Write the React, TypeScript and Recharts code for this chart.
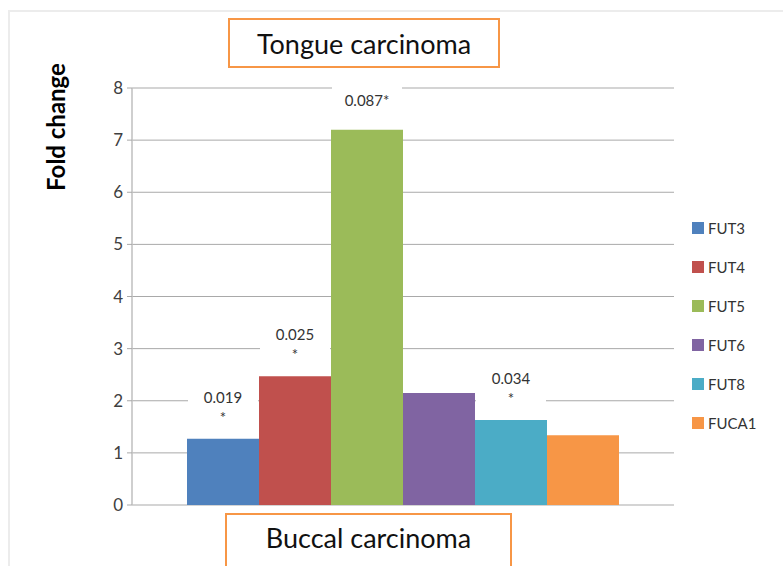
import React from "react";
import { BarChart, Bar, XAxis, YAxis, CartesianGrid, LabelList } from "recharts";

const genes = ["FUT3", "FUT4", "FUT5", "FUT6", "FUT8", "FUCA1"];
const foldChange = [1.27, 2.47, 7.2, 2.15, 1.63, 1.34];
const pLabels = ["0.019\n*", "0.025\n*", "0.087*", "", "0.034\n*", ""];
const colors = ["#4f81bd", "#c0504d", "#9bbb59", "#8064a2", "#4bacc6", "#f79646"];
const yTicks = [0, 1, 2, 3, 4, 5, 6, 7, 8];
const category = "Buccal carcinoma";
const topTitle = "Tongue carcinoma";
const yLabel = "Fold change";

const row: Record<string, any> = { name: category };
genes.forEach((g, i) => {
  row[g] = foldChange[i];
});
const data = [row];

const FONT = "Lato, 'Open Sans', sans-serif";

const makeLabel = (idx: number) => (props: any) => {
  const { x, y, width } = props;
  const txt = pLabels[idx];
  if (!txt) return null;
  const lines = txt.split("\n");
  const cx = x + width / 2;
  const two = lines.length > 1;
  const rectTop = two ? y - 52 : y - 48;
  const rectBottom = y - 12;
  return (
    <g>
      <rect x={x + 1} y={rectTop} width={width - 2} height={rectBottom - rectTop} fill="#ffffff" />
      {two ? (
        <>
          <text x={cx} y={y - 36} textAnchor="middle" fontSize={15} fill="#333333" fontFamily={FONT}>
            {lines[0]}
          </text>
          <text x={cx} y={y - 16} textAnchor="middle" fontSize={15} fill="#333333" fontFamily={FONT}>
            {lines[1]}
          </text>
        </>
      ) : (
        <text x={cx} y={y - 24} textAnchor="middle" fontSize={15} fill="#333333" fontFamily={FONT}>
          {lines[0]}
        </text>
      )}
    </g>
  );
};

export default function App() {
  return (
    <div style={{ position: "absolute", left: 0, top: 0, width: 783, height: 566, background: "#fff", fontFamily: FONT }}>
      <div
        style={{
          position: "absolute",
          left: 8,
          top: 10,
          width: 790,
          height: 554,
          borderLeft: "2px solid #ececec",
          borderTop: "2px solid #ececec",
          borderBottom: "2px solid #ececec",
        }}
      />
      <BarChart
        width={783}
        height={566}
        data={data}
        margin={{ top: 88, right: 109, bottom: 61, left: 0 }}
        barGap={0}
        barCategoryGap="10%"
        style={{ position: "absolute", left: 0, top: 0 }}
      >
        <CartesianGrid vertical={false} stroke="#a9a9a9" strokeWidth={1} />
        <XAxis dataKey="name" hide />
        <YAxis
          width={132}
          domain={[0, 8]}
          ticks={yTicks}
          interval={0}
          axisLine={{ stroke: "#bfbfbf", strokeWidth: 1.5 }}
          tickLine={{ stroke: "#a9a9a9" }}
          tickSize={5}
          tickMargin={4}
          tick={{ fontSize: 17, fill: "#404040", fontFamily: FONT }}
        />
        {genes.map((g, i) => (
          <Bar key={g} dataKey={g} fill={colors[i]} barSize={72} isAnimationActive={false}>
            <LabelList dataKey={g} content={makeLabel(i)} />
          </Bar>
        ))}
      </BarChart>
      <div
        style={{
          position: "absolute",
          left: 55,
          top: 127,
          transform: "translate(-50%, -50%) rotate(-90deg)",
          transformOrigin: "center",
          fontSize: 24,
          fontWeight: 700,
          whiteSpace: "nowrap",
          color: "#000",
        }}
      >
        {yLabel}
      </div>
      <div
        style={{
          position: "absolute",
          left: 228,
          top: 18,
          width: 272,
          height: 50,
          boxSizing: "border-box",
          border: "2px solid #f79646",
          background: "#fff",
          display: "flex",
          alignItems: "center",
          justifyContent: "center",
          fontSize: 27,
          color: "#111",
        }}
      >
        {topTitle}
      </div>
      <div
        style={{
          position: "absolute",
          left: 225,
          top: 513,
          width: 287,
          height: 60,
          boxSizing: "border-box",
          border: "2px solid #f79646",
          background: "#fff",
          display: "flex",
          alignItems: "flex-start",
          justifyContent: "center",
          paddingTop: 6,
          fontSize: 27,
          color: "#111",
        }}
      >
        {category}
      </div>
      <div style={{ position: "absolute", left: 692, top: 208 }}>
        {genes.map((g, i) => (
          <div key={g} style={{ display: "flex", alignItems: "center", height: 39 }}>
            <div style={{ width: 12, height: 12, background: colors[i], marginRight: 4 }} />
            <span style={{ fontSize: 15, color: "#333333", lineHeight: "18px" }}>{g}</span>
          </div>
        ))}
      </div>
    </div>
  );
}
